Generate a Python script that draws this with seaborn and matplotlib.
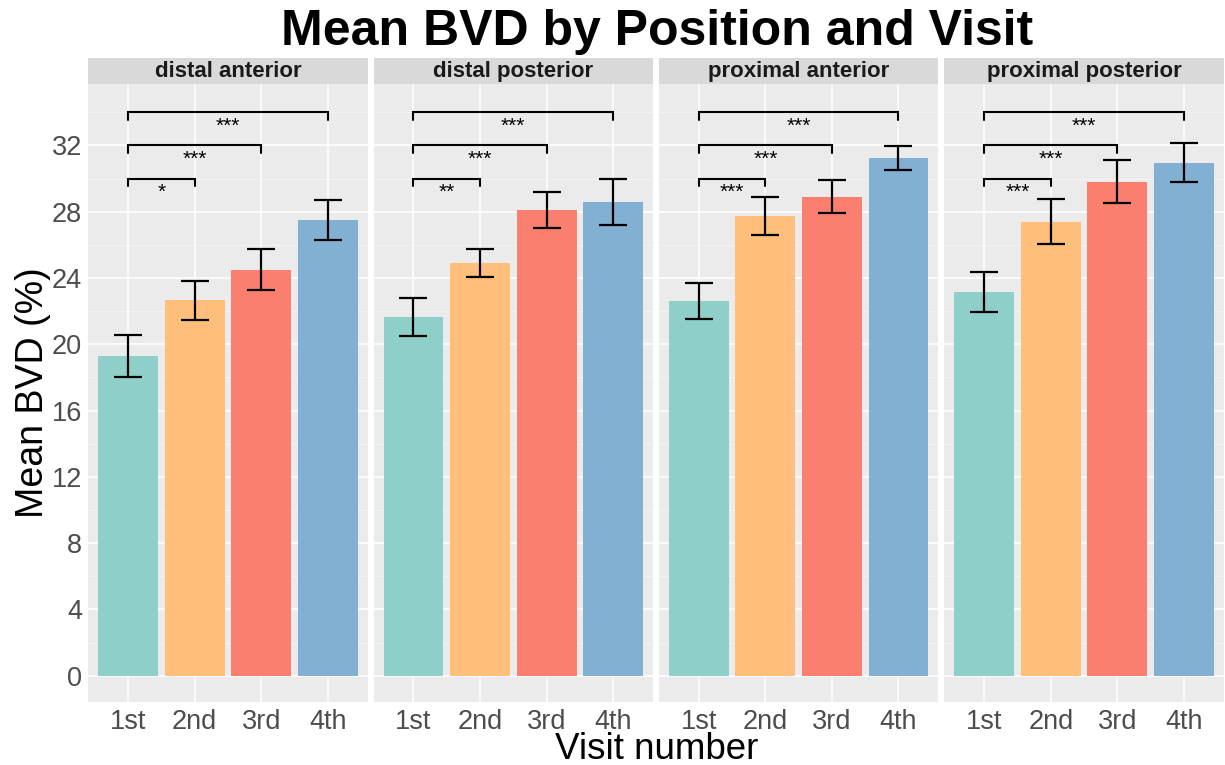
import numpy as np
import pandas as pd
import seaborn as sns
import matplotlib.pyplot as plt
from matplotlib.patches import Rectangle

# datos
positions = ["distal anterior", "distal posterior", "proximal anterior", "proximal posterior"]
visits = ["1st", "2nd", "3rd", "4th"]
colores = ["#8ECFC9", "#FFBE7A", "#FA7F6F", "#82B0D2"]

mean_da = [19.3, 22.65, 24.5, 27.5]
err_da = [1.26, 1.2, 1.25, 1.22]
mean_dp = [21.65, 24.9, 28.12, 28.6]
err_dp = [1.17, 0.85, 1.08, 1.39]
mean_pa = [22.62, 27.75, 28.9, 31.25]
err_pa = [1.11, 1.16, 1.0, 0.74]
mean_pp = [23.15, 27.4, 29.8, 30.97]
err_pp = [1.2, 1.37, 1.3, 1.2]

sig_da = ["*", "***", "***"]
sig_dp = ["**", "***", "***"]
sig_pa = ["***", "***", "***"]
sig_pp = ["***", "***", "***"]
comparaciones = [(0, 1), (0, 2), (0, 3)]
altura_brackets = [30, 32, 34]

medias = [mean_da, mean_dp, mean_pa, mean_pp]
errores = [err_da, err_dp, err_pa, err_pp]
signos = [sig_da, sig_dp, sig_pa, sig_pp]

sns.set_theme(style="darkgrid", rc={
    "axes.facecolor": "#EBEBEB",
    "grid.color": "white",
    "axes.edgecolor": "#EBEBEB",
    "text.color": "black",
})
plt.rcParams["font.family"] = ["Liberation Sans", "DejaVu Sans"]

fig, axes = plt.subplots(1, 4, figsize=(12.25, 7.65), dpi=100, sharey=True)
fig.subplots_adjust(left=0.072, right=0.999, top=0.89, bottom=0.082, wspace=0.021)

for k, ax in enumerate(axes):
    df = pd.DataFrame({"visit": visits, "bvd": medias[k]})
    sns.barplot(data=df, x="visit", y="bvd", hue="visit", palette=colores,
                ax=ax, width=0.9, saturation=1, legend=False, errorbar=None,
                linewidth=0)
    ax.errorbar(np.arange(len(visits)), medias[k], yerr=errores[k], fmt="none",
                ecolor="black", elinewidth=1.6, capsize=10, capthick=1.6, zorder=5)

    # brackets de significancia
    for (i, j), y, s in zip(comparaciones, altura_brackets, signos[k]):
        ax.plot([i, i, j, j], [y - 0.45, y, y, y - 0.45], color="black", lw=1.5,
                solid_joinstyle="miter")
        ax.text((i + j) / 2, y - 0.25, s, ha="center", va="top", fontsize=15,
                color="black")

    ax.set_xlim(-0.6, 3.6)
    ax.set_ylim(-1.6, 35.7)
    ax.set_yticks(np.arange(0, 33, 4))
    ax.set_yticks(np.arange(2, 36, 4), minor=True)
    ax.grid(which="major", color="white", lw=1.1)
    ax.grid(which="minor", axis="y", color="#F5F5F5", lw=0.6)
    ax.set_xlabel("")
    ax.set_ylabel("")
    ax.tick_params(axis="both", which="major", labelsize=19.5, labelcolor="#4D4D4D",
                   length=3, color="#333333", width=0.8, pad=1.5)
    ax.tick_params(which="minor", length=0)
    for sp in ax.spines.values():
        sp.set_visible(False)

    # strip
    ax.add_patch(Rectangle((0, 1), 1, 0.042, transform=ax.transAxes,
                           facecolor="#D9D9D9", edgecolor="none", clip_on=False))
    ax.text(0.5, 1.021, positions[k], transform=ax.transAxes, ha="center",
            va="center", fontsize=16, fontweight="bold", color="#1A1A1A")

fig.text(0.536, 0.941, "Mean BVD by Position and Visit", ha="center", va="baseline",
         fontsize=36, fontweight="bold")
fig.text(0.536, 0.008, "Visit number", ha="center", va="baseline", fontsize=26.5)
fig.text(0.027, 0.487, "Mean BVD (%)", ha="center", va="center", fontsize=27,
         rotation=90)

plt.savefig("out.png", dpi=100)
